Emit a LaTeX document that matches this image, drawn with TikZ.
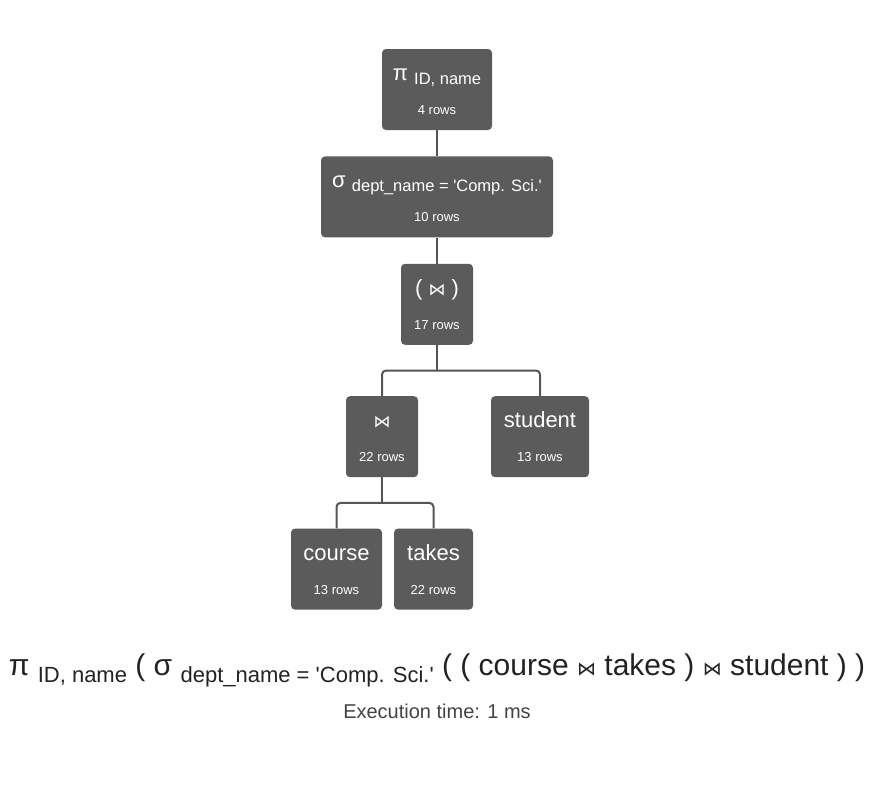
\documentclass[tikz,border=0pt]{standalone}
\usepackage{fontspec}
\setmainfont{Liberation Sans}
\newfontfamily\symfont{DejaVu Sans}
\usetikzlibrary{positioning}
\definecolor{opgray}{HTML}{5B5B5B}
\definecolor{edgegray}{HTML}{555555}
\definecolor{exprink}{HTML}{222222}
\newcommand{\opname}[1]{{\fontsize{22}{22}\selectfont\rule{0pt}{16pt}#1}}
\newcommand{\opsub}[1]{\raisebox{-4pt}[0pt][0pt]{\fontsize{16.5}{16.5}\selectfont #1}}
\newcommand{\joinsym}[1]{{\symfont\fontsize{#1}{#1}\selectfont ⋈}}
\newcommand{\exprsub}[1]{\raisebox{-7pt}{\fontsize{22}{22}\selectfont #1}}
\newcommand{\q}{\textquotesingle}
\tikzset{
  op/.style={fill=opgray,rounded corners=4pt,text=white,align=center,
    minimum height=81pt,inner sep=0pt,font=\fontsize{13}{34}\selectfont},
  edge/.style={draw=edgegray,line width=2pt},
  expr/.style={text=exprink,inner sep=0pt,font=\fontsize{30}{30}\selectfont},
  note/.style={text=exprink!85,inner sep=0pt,font=\fontsize{20}{20}\selectfont},
}
\begin{document}
\begin{tikzpicture}[x=1pt,y=-1pt]
\useasboundingbox (0,0) rectangle (888,795);
% operator tree
\node[op,minimum width=110pt] (proj) at (437,89.5)
  {\opname{π \opsub{ID, name}}\\4 rows};
\node[op,minimum width=232pt,below=26pt of proj] (sel)
  {\opname{σ \opsub{dept\_name = \q Comp. Sci.\q}}\\10 rows};
\node[op,minimum width=72pt,below=26pt of sel] (jnp)
  {\opname{( \joinsym{17} )}\\17 rows};
\node[op,minimum width=72pt,below=51pt of jnp,xshift=-55pt] (jn)
  {\opname{\joinsym{17}}\\22 rows};
\node[op,minimum width=98pt,below=51pt of jnp,xshift=103pt] (stu)
  {\opname{student}\\13 rows};
\node[op,minimum width=91pt,below=51pt of jn,xshift=-45.5pt] (crs)
  {\opname{course}\\13 rows};
\node[op,minimum width=79pt,below=51pt of jn,xshift=51.5pt] (tak)
  {\opname{takes}\\22 rows};
% connectors
\draw[edge] (proj) -- (sel);
\draw[edge] (sel) -- (jnp);
\coordinate[below=25.5pt of jnp.south] (forkA);
\draw[edge] (jnp) -- (forkA);
\draw[edge,rounded corners=4pt] (forkA) -| (jn);
\draw[edge,rounded corners=4pt] (forkA) -| (stu);
\coordinate[below=25.5pt of jn.south] (forkB);
\draw[edge] (jn) -- (forkB);
\draw[edge,rounded corners=4pt] (forkB) -| (crs);
\draw[edge,rounded corners=4pt] (forkB) -| (tak);
% expression
\node[expr] (query) at (437,670)
  {π \exprsub{ID, name} ( σ \exprsub{dept\_name = \q Comp. Sci.\q} ( ( course \joinsym{19} takes ) \joinsym{19} student ) )};
\node[note] (exec) at (437,711) {Execution time: 1 ms};
\end{tikzpicture}
\end{document}
